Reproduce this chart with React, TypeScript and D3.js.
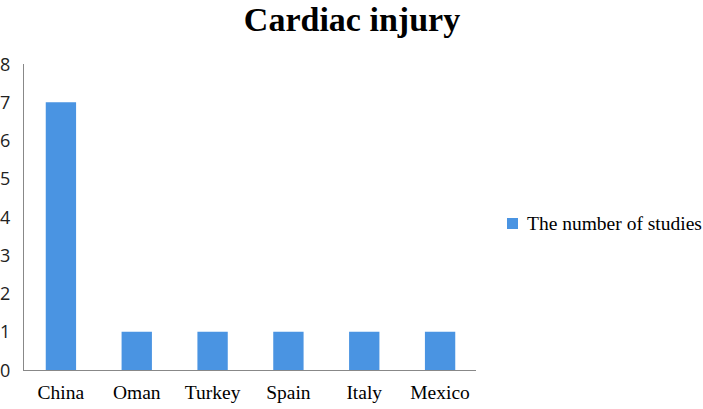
import React from "react";
import * as d3 from "d3";

const categories = ["China", "Oman", "Turkey", "Spain", "Italy", "Mexico"];
const values = [7, 1, 1, 1, 1, 1];
const yTicks = [0, 1, 2, 3, 4, 5, 6, 7, 8];
const seriesName = "The number of studies";
const title = "Cardiac injury";

export default function App() {
  const W = 703, H = 409;
  const x = d3.scaleBand<string>().domain(categories).range([23, 478]).paddingInner(0.6).paddingOuter(0.3);
  const y = d3.scaleLinear().domain([0, 8]).range([370, 64]);
  const color = "#4A94E2";
  return (
    <svg width={W} height={H} style={{ position: "absolute", left: 0, top: 0, background: "#fff" }}>
      <text x={352} y={30.5} textAnchor="middle" fontFamily="Liberation Serif, Times New Roman, serif" fontWeight="bold" fontSize={34}>{title}</text>
      {yTicks.map(t => (
        <text key={t} x={0} y={y(t) + 6.5} fontFamily="Open Sans, Noto Sans, sans-serif" fontSize={18} fill="#222">{t}</text>
      ))}
      {categories.map((c, i) => (
        <rect key={c} x={x(c)} y={y(values[i])} width={x.bandwidth()} height={y(0) - y(values[i])} fill={color} />
      ))}
      <line x1={23.5} x2={23.5} y1={64} y2={370} stroke="#888" strokeWidth={1} />
      <line x1={23} x2={476} y1={370.5} y2={370.5} stroke="#888" strokeWidth={1} />
      {categories.map(c => (
        <text key={c} x={(x(c) as number) + x.bandwidth() / 2} y={399} textAnchor="middle" fontFamily="Liberation Serif, Times New Roman, serif" fontSize={19.5}>{c}</text>
      ))}
      <rect x={507} y={218} width={11} height={11} fill={color} />
      <text x={527} y={230} fontFamily="Liberation Serif, Times New Roman, serif" fontSize={19.5}>{seriesName}</text>
    </svg>
  );
}
